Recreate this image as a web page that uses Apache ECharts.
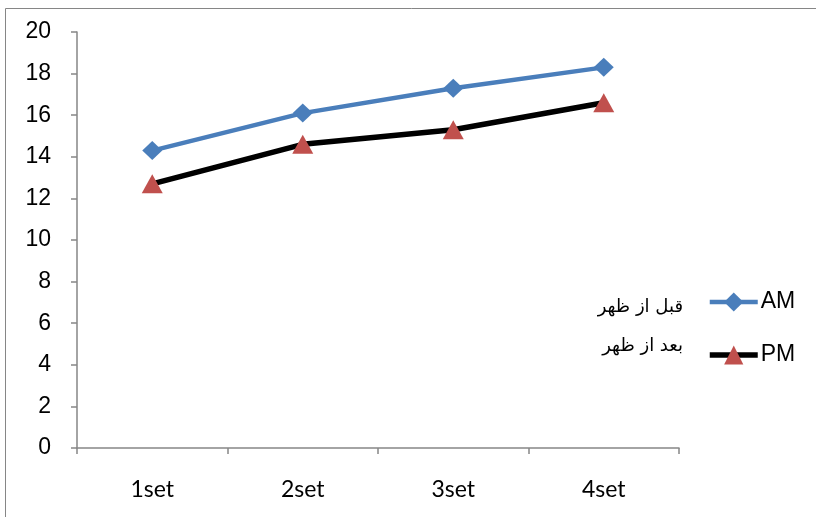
<!DOCTYPE html>
<html>
<head>
<meta charset="utf-8">
<script src="https://cdn.jsdelivr.net/npm/echarts@6/dist/echarts.min.js"></script>
<style>
html,body{margin:0;padding:0;background:#fff;}
#chart{width:816px;height:517px;}
</style>
</head>
<body>
<div id="chart"></div>
<script>
// Sets on the x axis and the two measured series
const categories = ['1set', '2set', '3set', '4set'];
const amValues = [14.3, 16.1, 17.3, 18.3];
const pmValues = [12.7, 14.6, 15.3, 16.6];
const amLabelFa = 'قبل از ظهر';
const pmLabelFa = 'بعد از ظهر';

const SANS = '"Liberation Sans", Arial, sans-serif';
const CAT_FONT = 'Lato, "Open Sans", sans-serif';
const chart = echarts.init(document.getElementById('chart'), null, {renderer: 'canvas'});

chart.setOption({
  animation: false,
  backgroundColor: '#fff',
  grid: {left: 77, right: 137, top: 32, bottom: 69, containLabel: false},
  xAxis: {
    type: 'category',
    data: categories,
    boundaryGap: true,
    axisLine: {lineStyle: {color: '#868686', width: 1.5}},
    axisTick: {show: true, length: 6, lineStyle: {color: '#868686', width: 1.5}},
    axisLabel: {color: '#000', fontFamily: CAT_FONT, fontSize: 23, margin: 30}
  },
  yAxis: {
    type: 'value',
    min: 0, max: 20, interval: 2,
    axisLine: {show: true, lineStyle: {color: '#868686', width: 1.5}},
    axisTick: {show: true, length: 6, inside: false, lineStyle: {color: '#868686', width: 1.5}},
    splitLine: {show: false},
    axisLabel: {color: '#000', fontFamily: SANS, fontSize: 23, margin: 26}
  },
  legend: {
    orient: 'vertical',
    left: 707,
    top: 290,
    padding: 0,
    itemWidth: 48,
    itemHeight: 24,
    itemGap: 29,
    textStyle: {color: '#000', fontFamily: SANS, fontSize: 23, lineHeight: 24, padding: [0, 0, 0, -2]},
    data: [
      {name: 'AM', lineStyle: {width: 4.5}},
      {name: 'PM', lineStyle: {width: 5.5}}
    ]
  },
  series: [
    {
      name: 'AM',
      type: 'line',
      data: amValues,
      symbol: 'diamond',
      symbolSize: [20, 19],
      lineStyle: {color: '#4a7ebb', width: 4.5},
      itemStyle: {color: '#4a7ebb'}
    },
    {
      name: 'PM',
      type: 'line',
      data: pmValues,
      symbol: 'triangle',
      symbolSize: [21, 19],
      lineStyle: {color: '#000', width: 5.5},
      itemStyle: {color: '#c0504d'}
    }
  ],
  graphic: [
    {
      type: 'rect',
      silent: true,
      shape: {x: 5.5, y: 8.5, width: 830, height: 530},
      style: {fill: 'none', stroke: '#868686', lineWidth: 1}
    },
    {
      type: 'text',
      right: 133, top: 298,
      style: {text: amLabelFa, font: '18px "DejaVu Sans"', fill: '#000', textAlign: 'right'}
    },
    {
      type: 'text',
      right: 133, top: 337,
      style: {text: pmLabelFa, font: '18px "DejaVu Sans"', fill: '#000', textAlign: 'right'}
    }
  ]
});
</script>
</body>
</html>
